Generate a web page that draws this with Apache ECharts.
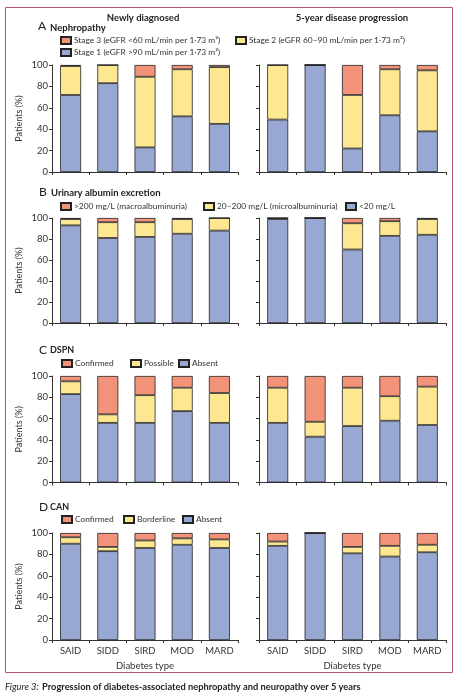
<!DOCTYPE html>
<html><head><meta charset="utf-8">
<script src="https://cdn.jsdelivr.net/npm/echarts@6/dist/echarts.min.js"></script>
<style>html,body{margin:0;padding:0;background:#fff}#c{width:458px;height:694px}</style>
</head><body><div id="c"></div>
<script>
const categories = ['SAID','SIDD','SIRD','MOD','MARD'];
const yTicks = [0,20,40,60,80,100];

// A Nephropathy
const nephNewStage1 = [72,83,23,52,45];
const nephNewStage2 = [27,17,66,44,53];
const nephNewStage3 = [1,0,11,4,2];
const nephProgStage1 = [49,100,22,53,38];
const nephProgStage2 = [51,0,50,43,57];
const nephProgStage3 = [0,0,28,4,5];
// B Urinary albumin excretion
const albNewLow = [93,81,82,85,88];
const albNewMicro = [6,15,14,14,12];
const albNewMacro = [1,4,4,1,0];
const albProgLow = [99,100,70,83,84];
const albProgMicro = [1,0,25,14,15];
const albProgMacro = [0,0,5,3,1];
// C DSPN
const dspnNewAbsent = [83,56,56,67,56];
const dspnNewPossible = [12,8,26,22,28];
const dspnNewConfirmed = [5,36,18,11,16];
const dspnProgAbsent = [56,43,53,58,54];
const dspnProgPossible = [33,14,36,23,36];
const dspnProgConfirmed = [11,43,11,19,10];
// D CAN
const canNewAbsent = [90,83,86,89,86];
const canNewBorderline = [6,4,7,6,8];
const canNewConfirmed = [4,13,7,5,6];
const canProgAbsent = [88,100,81,78,82];
const canProgBorderline = [4,0,6,10,7];
const canProgConfirmed = [8,0,13,12,11];

const names = {
  A: ['Stage 1 (eGFR >90 mL/min per 1·73 m²)','Stage 2 (eGFR 60–90 mL/min per 1·73 m²)','Stage 3 (eGFR <60 mL/min per 1·73 m²)'],
  B: ['<20 mg/L','20–200 mg/L (microalbuminuria)','>200 mg/L (macroalbuminuria)'],
  C: ['Absent','Possible','Confirmed'],
  D: ['Absent','Borderline','Confirmed']
};

const FONT = 'Lato,"Open Sans",sans-serif';
const BLUE = '#98a8d2', YEL = '#fde891', RED = '#f29379';
const colors = [BLUE, YEL, RED];
const AX = '#333';

const panels = [
  {key:'A', top:65, h:107, newD:[nephNewStage1,nephNewStage2,nephNewStage3], progD:[nephProgStage1,nephProgStage2,nephProgStage3]},
  {key:'B', top:218, h:105, newD:[albNewLow,albNewMicro,albNewMacro], progD:[albProgLow,albProgMicro,albProgMacro]},
  {key:'C', top:376, h:106.5, newD:[dspnNewAbsent,dspnNewPossible,dspnNewConfirmed], progD:[dspnProgAbsent,dspnProgPossible,dspnProgConfirmed]},
  {key:'D', top:533, h:107, newD:[canNewAbsent,canNewBorderline,canNewConfirmed], progD:[canProgAbsent,canProgBorderline,canProgConfirmed]}
];

const grid = [], xAxis = [], yAxis = [], series = [];
panels.forEach((p, pi) => {
  [{left:52,width:186,data:p.newD,labels:true},{left:259,width:187,data:p.progD,labels:false}].forEach((g, gi) => {
    const idx = grid.length;
    grid.push({left:g.left, top:p.top, width:g.width, height:p.h});
    const last = pi === panels.length - 1;
    xAxis.push({
      type:'category', gridIndex:idx, data:categories,
      axisLine:{lineStyle:{color:AX,width:1}},
      axisTick:{show:true, length:3, lineStyle:{color:AX}},
      axisLabel:{show:last, fontFamily:FONT, fontSize:9.5, color:'#333', margin:6},
      name: last ? 'Diabetes type' : '', nameLocation:'middle', nameGap:21,
      nameTextStyle:{fontFamily:FONT, fontSize:9.5, color:'#333'}
    });
    yAxis.push({
      type:'value', gridIndex:idx, min:0, max:100, interval:20,
      axisLine:{show:true, lineStyle:{color:AX,width:1}},
      axisTick:{show:true, length:3, lineStyle:{color:AX}},
      splitLine:{show:false},
      axisLabel:{show:g.labels, fontFamily:FONT, fontSize:9.5, color:'#333', margin:4},
      name: g.labels ? 'Patients (%)' : '', nameLocation:'middle', nameGap:28,
      nameTextStyle:{fontFamily:FONT, fontSize:9, color:'#333'}
    });
    g.data.forEach((arr, si) => {
      series.push({
        type:'bar', name:names[p.key][si], xAxisIndex:idx, yAxisIndex:idx,
        stack:'s'+idx, data:arr, barWidth:21, silent:true,
        itemStyle:{color:colors[si], borderColor:'#222', borderWidth:0.8}
      });
    });
  });
});

function leg(name, x, y) {
  return {
    data:[name], left:x, top:y, orient:'horizontal', padding:0, itemGap:0,
    itemWidth:10, itemHeight:7, selectedMode:false, icon:'rect',
    textStyle:{fontFamily:FONT, fontSize:8.4, color:'#333', padding:[0,0,0,-2]}
  };
}
const legend = [
  leg(names.A[2], 60, 36), leg(names.A[1], 235, 36), leg(names.A[0], 60, 48),
  leg(names.B[2], 60, 202), leg(names.B[1], 203, 202), leg(names.B[0], 345, 202),
  leg(names.C[2], 61, 359), leg(names.C[1], 130, 359), leg(names.C[0], 178, 359),
  leg(names.D[2], 61, 515), leg(names.D[1], 123, 515), leg(names.D[0], 182, 515)
];

function txt(x, y, s, size, weight, align) {
  return {type:'text', x:x, y:y, style:{text:s, fontFamily:FONT, fontSize:size, fontWeight:weight||'normal', fill:'#222', textAlign:align||'left', textVerticalAlign:'middle'}};
}
const graphic = [
  {type:'rect', shape:{x:5.5, y:7.5, width:447, height:665}, style:{fill:'none', stroke:'#b5517a', lineWidth:1}, z:-1},
  txt(143, 18, 'Newly diagnosed', 9.5, 'bold', 'center'),
  txt(352, 18, '5-year disease progression', 9.5, 'bold', 'center'),
  txt(38, 26.5, 'A', 12, 'normal'), txt(50, 27.5, 'Nephropathy', 9.5, 'bold'),
  txt(39, 192.5, 'B', 12, 'normal'), txt(51, 193, 'Urinary albumin excretion', 9.5, 'bold'),
  txt(39, 350, 'C', 12, 'normal'), txt(50, 350.5, 'DSPN', 9, 'bold'),
  txt(39, 507, 'D', 12, 'normal'), txt(50, 507.5, 'CAN', 9, 'bold'),
  {type:'text', x:5, y:687, style:{text:'{i|Figure 3:} {b|Progression of diabetes-associated nephropathy and neuropathy over 5 years}', textVerticalAlign:'middle',
    rich:{i:{fontFamily:FONT, fontSize:9.3, fontStyle:'italic', fill:'#222'}, b:{fontFamily:FONT, fontSize:9.3, fontWeight:'bold', fill:'#222'}}}}
];

const chart = echarts.init(document.getElementById('c'), null, {renderer:'canvas'});
chart.setOption({animation:false, backgroundColor:'#fff', grid, xAxis, yAxis, series, legend, graphic});
</script></body></html>
